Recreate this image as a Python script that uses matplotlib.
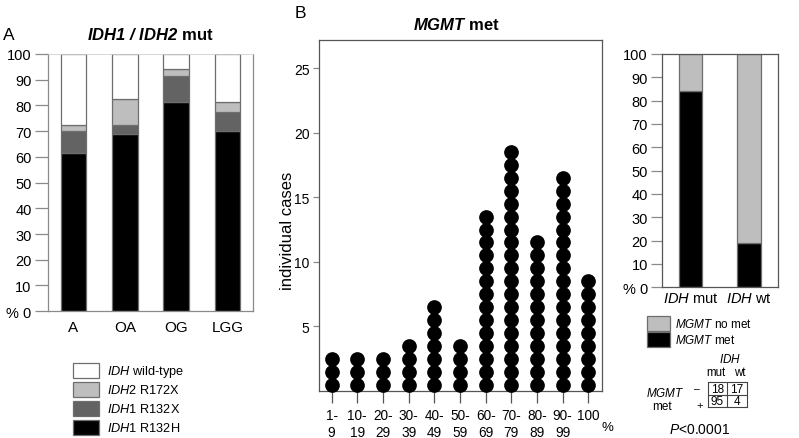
import numpy as np
import matplotlib
matplotlib.use('Agg')
import matplotlib.pyplot as plt
from matplotlib.patches import Rectangle

plt.rcParams['font.family'] = ['Liberation Sans', 'DejaVu Sans']
plt.rcParams['mathtext.fontset'] = 'custom'
plt.rcParams['mathtext.rm'] = 'Liberation Sans'
plt.rcParams['mathtext.it'] = 'Liberation Sans:italic'
plt.rcParams['mathtext.bf'] = 'Liberation Sans:bold'
plt.rcParams['mathtext.bfit'] = 'Liberation Sans:bold:italic'

# panel A data (% of cases)
groups = ['A', 'OA', 'OG', 'LGG']
idh1_r132h = [61.5, 69.0, 81.5, 70.0]
idh1_r132x = [8.5, 3.5, 10.0, 7.5]
idh2_r172x = [2.5, 10.0, 2.5, 4.0]
idh_wt = [27.5, 17.5, 6.0, 18.5]
legend_a = [r'$\mathit{IDH}$ wild-type', r'$\mathit{IDH2}$ R172X',
            r'$\mathit{IDH1}$ R132X', r'$\mathit{IDH1}$ R132H']

# panel B data (individual cases per methylation range)
met_bins = ['1-\n9', '10-\n19', '20-\n29', '30-\n39', '40-\n49', '50-\n59',
            '60-\n69', '70-\n79', '80-\n89', '90-\n99', '100']
met_cases = [3, 3, 3, 4, 7, 4, 14, 19, 12, 17, 9]

# panel C data
idh_status = [r'$\mathit{IDH}$ mut', r'$\mathit{IDH}$ wt']
mgmt_nomet = [18, 17]
mgmt_met = [95, 4]

W, H = 799, 439


def fx(x):
    return x / W


def fy(y):
    return 1 - y / H


def box(l, t, r, b):
    return [fx(l), fy(b), fx(r) - fx(l), fy(t) - fy(b)]


fig = plt.figure(figsize=(W / 100, H / 100), dpi=100)

c_black = '#000000'
c_dark = '#636363'
c_light = '#bebebe'
c_edge = '#6e6e6e'
c_spine = '#8a8a8a'

# ---------------- panel A ----------------
axA = fig.add_axes(box(47.7, 55, 253.3, 312.2))
x = np.arange(len(groups))
bottom = np.zeros(len(groups))
for vals, col in [(idh1_r132h, c_black), (idh1_r132x, c_dark),
                  (idh2_r172x, c_light), (idh_wt, 'white')]:
    axA.bar(x, vals, bottom=bottom, width=0.5, color=col, edgecolor=c_edge, linewidth=0.9)
    bottom += np.array(vals)
axA.set_xlim(-0.5, 3.5)
axA.set_ylim(0, 100)
axA.set_yticks(range(0, 101, 10))
axA.set_yticklabels(['% 0'] + [str(v) for v in range(10, 101, 10)], fontsize=10.5)
axA.set_xticks(x)
axA.set_xticklabels(groups, fontsize=11)
axA.tick_params(axis='y', length=9.5, width=0.9, color=c_spine, pad=2)
axA.tick_params(axis='x', length=0, pad=6)
for s in axA.spines.values():
    s.set_color(c_spine)
    s.set_linewidth(0.9)
axA.spines['top'].set_color('#d0d0d0')
axA.spines['top'].set_linewidth(0.6)

fig.text(fx(3), fy(35), 'A', fontsize=12.5, ha='left', va='center')
fig.text(fx(150.5), fy(35), r'$\mathbfit{IDH1\ /\ IDH2}$ mut', fontsize=12,
         fontweight='bold', ha='center', va='center')

# legend A
leg_cols = ['white', c_light, c_dark, c_black]
for i, (lab, col) in enumerate(zip(legend_a, leg_cols)):
    yc = 371.7 + i * 19
    fig.patches.append(Rectangle((fx(72.7), fy(yc + 7.7)), fx(26), 15.4 / H,
                                 transform=fig.transFigure, facecolor=col,
                                 edgecolor=c_edge, linewidth=0.9))
    fig.text(fx(107), fy(yc), lab, fontsize=9.2, ha='left', va='center')

# ---------------- panel B ----------------
axB = fig.add_axes(box(319.3, 40.7, 601.7, 392))
for i, n in enumerate(met_cases):
    yy = np.arange(n) + 0.5
    axB.scatter(np.full(n, i), yy, s=112, color='black', linewidths=0,
                clip_on=False, zorder=3)
axB.set_xlim(-0.48, 10.52)
axB.set_ylim(0, 27.2)
axB.set_yticks([5, 10, 15, 20, 25])
axB.set_yticklabels(['5', '10', '15', '20', '25'], fontsize=10)
axB.set_xticks(range(len(met_bins)))
axB.set_xticklabels(met_bins, fontsize=9.8, linespacing=1.22, va='top')
axB.tick_params(axis='y', length=4, width=0.9, color=c_spine, pad=3)
axB.tick_params(axis='x', length=8.5, width=0.9, color='#555555', pad=4)
for s in axB.spines.values():
    s.set_color('#555555')
    s.set_linewidth(0.9)
axB.set_ylabel('individual cases', fontsize=12)
axB.yaxis.set_label_coords(-0.087, 0.46)

fig.text(fx(295), fy(13), 'B', fontsize=12.5, ha='left', va='center')
fig.text(fx(456.7), fy(25), r'$\mathbfit{MGMT}$ met', fontsize=12,
         fontweight='bold', ha='center', va='center')
fig.text(fx(607), fy(428), '%', fontsize=9.5, ha='center', va='center')

# ---------------- panel C ----------------
axC = fig.add_axes(box(661.7, 55, 777.7, 288.3))
xc = np.arange(len(idh_status))
tot = np.array(mgmt_met) + np.array(mgmt_nomet)
met_pct = np.array(mgmt_met) / tot * 100
nomet_pct = np.array(mgmt_nomet) / tot * 100
axC.bar(xc, met_pct, width=0.4, color=c_black, edgecolor=c_edge, linewidth=0.9)
axC.bar(xc, nomet_pct, bottom=met_pct, width=0.4, color=c_light,
        edgecolor=c_edge, linewidth=0.9)
axC.set_xlim(-0.49, 1.49)
axC.set_ylim(0, 100)
axC.set_yticks(range(0, 101, 10))
axC.set_yticklabels(['% 0'] + [str(v) for v in range(10, 101, 10)], fontsize=10.5)
axC.set_xticks(xc)
axC.set_xticklabels(idh_status, fontsize=10.5)
axC.tick_params(axis='y', length=8, width=0.9, color=c_spine, pad=2)
axC.tick_params(axis='x', length=0, pad=3)
for s in axC.spines.values():
    s.set_color('#555555')
    s.set_linewidth(0.9)

# legend C
for i, (lab, col) in enumerate([(r'$\mathit{MGMT}$ no met', c_light),
                                (r'$\mathit{MGMT}$ met', c_black)]):
    yc = 324.2 + i * 16.6
    fig.patches.append(Rectangle((fx(646.7), fy(yc + 7.5)), fx(23.3), 15 / H,
                                 transform=fig.transFigure, facecolor=col,
                                 edgecolor=c_edge, linewidth=0.9))
    fig.text(fx(675), fy(yc), lab, fontsize=8.5, ha='left', va='center')

# contingency table
axT = fig.add_axes(box(707.7, 383.3, 746.7, 408.3))
axT.set_xlim(0, 2)
axT.set_ylim(0, 2)
table = [mgmt_nomet, mgmt_met]
for r, row in enumerate(table):
    for c, v in enumerate(row):
        axT.text(c + 0.5, 1.5 - r, str(v), fontsize=8.5, ha='center', va='center')
axT.axvline(1, color='#444444', lw=0.8)
axT.axhline(1, color='#444444', lw=0.8)
axT.set_xticks([])
axT.set_yticks([])
for s in axT.spines.values():
    s.set_color('#444444')
    s.set_linewidth(0.8)

fig.text(fx(730), fy(360), r'$\mathit{IDH}$', fontsize=8.5, ha='center', va='center')
fig.text(fx(716), fy(373), 'mut', fontsize=8.3, ha='center', va='center')
fig.text(fx(740), fy(373), 'wt', fontsize=8.3, ha='center', va='center')
fig.text(fx(665), fy(393.3), r'$\mathit{MGMT}$', fontsize=8.5, ha='center', va='center')
fig.text(fx(661.7), fy(406.7), 'met', fontsize=8.5, ha='center', va='center')
fig.text(fx(696.7), fy(389), '\u2013', fontsize=7.5, ha='center', va='center')
fig.text(fx(699.3), fy(406), '+', fontsize=8, ha='center', va='center')
fig.text(fx(700), fy(430), r'$\mathit{P}$<0.0001', fontsize=10, ha='center', va='center')

fig.savefig('out.png', dpi=100)
